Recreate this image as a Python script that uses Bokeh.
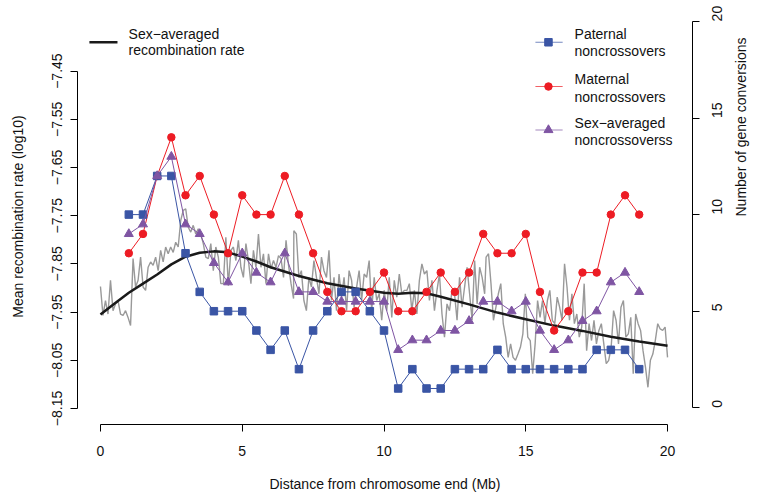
import math
import numpy as np
from bokeh.plotting import figure
from bokeh.models import Range1d, LinearAxis, FixedTicker
from bokeh.core.properties import value
from bokeh.embed import file_html
from bokeh.resources import INLINE

# ---------------- data ----------------
positions = [1, 1.5, 2, 2.5, 3, 3.5, 4, 4.5, 5, 5.5, 6, 6.5, 7, 7.5, 8, 8.5, 9, 9.5, 10,
             10.5, 11, 11.5, 12, 12.5, 13, 13.5, 14, 14.5, 15, 15.5, 16, 16.5, 17, 17.5,
             18, 18.5, 19]
paternal = [10, 10, 12, 12, 8, 6, 5, 5, 5, 4, 3, 4, 2, 4, 5, 6, 6, 5, 4,
            1, 2, 1, 1, 2, 2, 2, 3, 2, 2, 2, 2, 2, 2, 3, 3, 3, 2]
maternal = [8, 9, 12, 14, 11, 12, 10, 8, 11, 10, 10, 12, 10, 8, 6, 5, 5, 6, 7,
            5, 5, 6, 7, 6, 7, 9, 8, 8, 9, 6, 4, 5, 7, 7, 10, 11, 10]
sex_avg = [9, 9.5, 12, 13, 9.5, 9, 7.5, 6.5, 8, 7, 6.5, 8, 6, 6, 5.5, 5.5, 5.5, 5.5, 5.5,
           3, 3.5, 3.5, 4, 4, 4.5, 5.5, 5.5, 5, 5.5, 4, 3, 3.5, 4.5, 5, 6.5, 7, 6]

rate_x = [0, 0.5, 1, 1.5, 2, 2.5, 3, 3.5, 4, 4.5, 5, 5.5, 6, 7, 8, 9, 10, 10.5, 11, 11.5,
          12, 13, 14, 15, 16, 17, 18, 19, 20]
rate_smooth = [-7.955, -7.932, -7.910, -7.891, -7.872, -7.851, -7.835, -7.827, -7.824,
               -7.826, -7.835, -7.845, -7.857, -7.875, -7.890, -7.901, -7.910, -7.912,
               -7.910, -7.911, -7.918, -7.934, -7.951, -7.965, -7.978, -7.989, -8.001,
               -8.011, -8.020]

rate_raw_a = [-7.897, -7.957, -7.926, -7.954, -7.884, -7.947, -7.933, -7.926, -7.954, -7.957,
              -7.947, -7.961, -7.978, -7.839, -7.898, -7.884, -7.836, -7.898, -7.905, -7.857,
              -7.846, -7.853, -7.836, -7.864, -7.822, -7.846, -7.815, -7.829, -7.815, -7.826,
              -7.805, -7.815, -7.760, -7.739, -7.736, -7.774, -7.784, -7.770, -7.788, -7.777,
              -7.788, -7.808, -7.836, -7.839, -7.808, -7.864, -7.815, -7.836, -7.891, -7.891,
              -7.795, -7.895, -7.822, -7.815, -7.843, -7.801, -7.857, -7.878, -7.808, -7.843,
              -7.891, -7.822, -7.857, -7.788, -7.857, -7.829, -7.891, -7.829, -7.860, -7.843,
              -7.857, -7.833, -7.839, -7.878, -7.801, -7.853, -7.891, -7.922]
rate_raw_b = [-7.781, -7.788, -7.878, -7.864, -7.926, -7.947, -7.878, -7.898, -7.843, -7.878,
              -7.912, -7.836, -7.864, -7.878, -7.822, -7.926, -7.878, -7.947, -7.871, -7.919,
              -7.878, -7.947, -7.864, -7.884, -7.940, -7.898, -7.864, -7.926, -7.871, -7.878,
              -7.843, -7.947, -7.878, -7.926, -7.912, -7.967, -7.905, -7.947, -7.878, -7.961,
              -7.884, -7.919, -7.871, -7.912, -7.905, -7.905, -7.891, -7.947, -7.905, -7.954,
              -7.884, -7.850, -7.871, -7.864, -7.926, -7.884, -7.947, -7.905, -7.871, -7.954,
              -8.002, -7.933, -7.947, -7.905, -7.912, -7.967, -7.878, -7.940, -7.898, -7.857,
              -7.912, -7.967, -7.843, -7.933, -7.857, -7.878, -7.912]
rate_raw_c = [-7.836, -7.829, -7.891, -7.967, -7.940, -7.912, -7.891, -7.974, -8.002, -8.044,
              -8.016, -8.044, -8.050, -8.037, -8.023, -7.995, -7.912, -8.002, -8.009, -8.078,
              -8.016, -7.926, -7.961, -7.926, -7.974, -7.926, -7.905, -7.967, -7.974, -7.919,
              -7.940, -7.967, -7.850, -7.898, -7.967, -7.912, -7.974, -7.954, -8.002, -7.981,
              -7.891, -8.030, -7.974, -8.009, -7.967, -8.016, -7.988, -7.974, -8.016, -8.057,
              -8.050, -8.023, -7.947, -7.967, -8.016, -7.940, -7.926, -8.002, -7.995, -7.961,
              -8.078, -7.954, -7.974, -7.988, -8.030, -8.064, -8.106, -8.050, -8.037, -8.009,
              -7.974, -7.985, -7.988, -7.981, -8.044]
raw_spans = [(0.0, 6.81), (6.82, 13.55), (13.6, 20.0)]

x_ticks = [0, 5, 10, 15, 20]
left_ticks = [-8.15, -8.05, -7.95, -7.85, -7.75, -7.65, -7.55, -7.45]
right_ticks = [0, 5, 10, 15, 20]

# ---------------- styling ----------------
FONT = "Liberation Sans"
BLUE = "#3A55A5"
RED = "#ED1C24"
PURPLE = "#7F55A3"
GRAY = "#999999"
BLACK = "#1a1a1a"
TEXT = "#111111"

raw_x = np.concatenate([np.linspace(a, b, len(v)) for (a, b), v in
                        zip(raw_spans, [rate_raw_a, rate_raw_b, rate_raw_c])])
raw_y = rate_raw_a + rate_raw_b + rate_raw_c

p = figure(width=761, height=494, output_backend="svg", toolbar_location=None,
           x_range=Range1d(-0.81, 20.88), y_range=Range1d(-8.1832, -7.3201),
           min_border_left=77, min_border_right=69, min_border_top=8, min_border_bottom=70,
           y_axis_location=None, x_axis_location=None)
p.extra_y_ranges = {"right": Range1d(-0.864, 20.668)}
p.outline_line_color = None
p.xgrid.visible = False
p.ygrid.visible = False
p.background_fill_color = "white"
p.border_fill_color = "white"


def style_axis(ax, size="14px"):
    ax.axis_line_color = "black"
    ax.axis_line_width = 1
    ax.major_tick_line_color = "black"
    ax.major_tick_in = 0
    ax.major_tick_out = 7
    ax.minor_tick_line_color = None
    ax.major_label_text_font = FONT
    ax.major_label_text_font_size = size
    ax.major_label_text_color = TEXT
    ax.axis_label_text_font = FONT
    ax.axis_label_text_font_size = size
    ax.axis_label_text_font_style = "normal"
    ax.axis_label_text_color = TEXT


xa = LinearAxis(ticker=FixedTicker(ticks=x_ticks), axis_label="Distance from chromosome end (Mb)")
style_axis(xa)
xa.bounds = (0, 20)
xa.major_label_standoff = 14
xa.axis_label_standoff = 17
p.add_layout(xa, "below")

la = LinearAxis(ticker=FixedTicker(ticks=left_ticks), axis_label="Mean recombination rate (log10)")
style_axis(la)
la.bounds = (-8.15, -7.45)
la.major_label_overrides = {t: ("%.2f" % t).replace("-", "\u2212") for t in left_ticks}
la.major_label_orientation = "parallel"
la.major_label_standoff = 8
la.axis_label_standoff = 24
p.add_layout(la, "left")

# right axis: ticks and labels
ra = LinearAxis(y_range_name="right", ticker=FixedTicker(ticks=right_ticks))
style_axis(ra)
ra.bounds = (0, 20)
ra.major_label_orientation = math.pi / 2
ra.major_label_standoff = 18
p.add_layout(ra, "right")

# right axis title carried by a second, bare axis stacked outside the first
rt = LinearAxis(y_range_name="right", ticker=FixedTicker(ticks=[]),
                axis_label="Number of gene conversions")
style_axis(rt)
rt.axis_line_color = None
rt.major_tick_out = 0
rt.major_label_standoff = 0
rt.axis_label_standoff = 10
if "axis_label_orientation" in rt.properties():
    rt.axis_label_orientation = math.pi / 2
p.add_layout(rt, "right")

# recombination rate lines (left axis)
p.line(raw_x, raw_y, line_color=GRAY, line_width=1.4)
p.line(rate_x, rate_smooth, line_color=BLACK, line_width=2.5)

# gene conversions (right axis)
p.line(positions, maternal, line_color=RED, line_width=1, y_range_name="right")
p.scatter(positions, maternal, marker="circle", size=7.5, fill_color=RED, line_color=RED,
          y_range_name="right")
p.line(positions, paternal, line_color=BLUE, line_width=1, y_range_name="right")
p.scatter(positions, paternal, marker="square", size=7.5, fill_color=BLUE, line_color=BLUE,
          y_range_name="right")
p.line(positions, sex_avg, line_color=PURPLE, line_width=1, y_range_name="right")
p.scatter(positions, sex_avg, marker="triangle", size=9, fill_color=PURPLE, line_color=PURPLE,
          y_range_name="right")

# ---------------- legends ----------------
TXT = dict(text_font=value(FONT), text_font_size="14px", text_color=TEXT,
           text_baseline="middle", text_align="left")
p.line([-0.39, 0.60], [-7.390, -7.390], line_color=BLACK, line_width=2.5)
p.text([0.99, 0.99], [-7.373, -7.407], text=["Sex\u2212averaged", "recombination rate"], **TXT)

leg = [
    (BLUE, "square", 7.5, 18.92, ["Paternal", "noncrossovers"], [19.35, 18.49]),
    (RED, "circle", 7.5, 16.63, ["Maternal", "noncrossovers"], [17.04, 16.11]),
    (PURPLE, "triangle", 9, 14.38, ["Sex\u2212averaged", "noncrossoverss"], [14.72, 13.86]),
]
for col, mk, sz, yy, labels, ty in leg:
    p.line([15.34, 16.30], [yy, yy], line_color=col, line_width=1.2, line_alpha=0.7,
           y_range_name="right")
    p.scatter([15.80], [yy], marker=mk, size=sz, fill_color=col, line_color=col,
              y_range_name="right")
    p.text([16.72, 16.72], ty, text=labels, y_range_name="right", **TXT)

open("out.html", "w").write(file_html(p, INLINE))
